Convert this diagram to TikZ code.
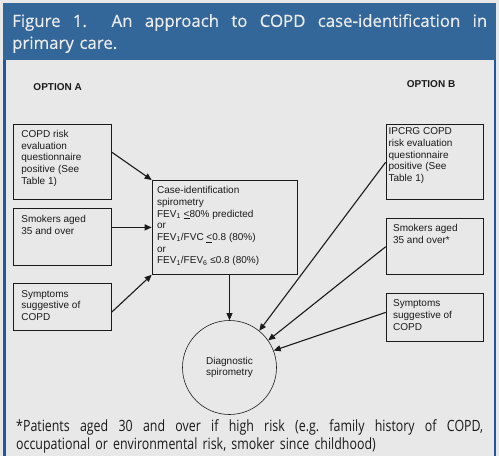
\documentclass[tikz,border=0pt]{standalone}
\usepackage{fontspec}
\setmainfont{Liberation Sans}
\newfontfamily\capfont[FakeBold=0.4]{Open Sans}
\newfontfamily\notefont[FakeStretch=0.8]{Open Sans}
\usetikzlibrary{arrows.meta,positioning,calc}
\usepackage{xcolor}
\definecolor{pageGray}  {HTML}{E8E8E8}
\definecolor{bannerBlue}{HTML}{33679A}
\definecolor{frameBlue} {HTML}{1F56A0}
\definecolor{bannerText}{HTML}{ECECEC}
\definecolor{boxInk}    {HTML}{1A1A1A}
\newcommand{\casebox}[7]{% name, corner, width, height, x inset, y inset, text
  \pgfmathsetmacro{\bw}{#3-2*#5}\pgfmathsetmacro{\bh}{#4-2*#6}
  \node[cbox, inner xsep=#5pt, inner ysep=#6pt] (#1) at (#2)
    {\parbox[c][\bh pt][t]{\bw pt}{\raggedright #7}};
}
% a full line with stretched spaces
\newcommand{\fullline}[2]{\makebox[#1][s]{\frenchspacing\spaceskip=0pt\xspaceskip=0pt #2}}

\begin{document}
\begin{tikzpicture}[x=1pt, y=-1pt,
  every node/.style ={font=\fontsize{10}{11.7}\selectfont},
  cbox/.style       ={draw=boxInk, line width=0.8pt, anchor=north west, text=boxInk},
  dcirc/.style      ={draw=boxInk, line width=0.6pt, circle, minimum size=94pt, inner sep=0pt, align=center, text=boxInk},
  optlbl/.style     ={font=\fontsize{10}{12}\selectfont\bfseries, text=boxInk, inner sep=0pt, anchor=base west},
  arr/.style        ={-{Triangle[length=7pt,width=6pt]}, line width=1.1pt, boxInk},
  thinarr/.style    ={-{Triangle[length=7pt,width=6pt]}, line width=0.7pt, boxInk},
  captxt/.style     ={font=\capfont\fontsize{16.8}{22}\selectfont, text=bannerText, text width=475pt, align=left, inner sep=0pt, anchor=north west},
  notetxt/.style    ={font=\notefont\fontsize{15.5}{18}\selectfont, text=boxInk, text width=467pt, align=left, inner sep=0pt, anchor=north west},
]
\useasboundingbox (0,0) rectangle (499,456);

% page, banner and side rules
\fill[pageGray]   (0,0) rectangle (499,456);
\fill[bannerBlue] (3.3,3) rectangle (496,60);
\fill[frameBlue]  (3.3,60) rectangle (6,456);
\fill[frameBlue]  (494.3,60) rectangle (496,456);

\node[captxt] (cap) at (12,13.8)
  {\fullline{475pt}{Figure 1.\ \ An approach to COPD case-identification in}\\primary care.};

\node[optlbl] (optA) at (33.3,90.7) {OPTION A};
\node[optlbl] (optB) at (406.7,87.5) {OPTION B};

% option A
\casebox{a1}{13.3,124.3}{97.7}{75}{7.7}{5.5}{COPD risk\\evaluation\\questionnaire\\positive (See\\Table 1)}
\casebox{a2}{13.3,208.3}{97.7}{56.7}{7.7}{6.5}{Smokers aged\\35 and over}
\casebox{a3}{13.3,283.3}{97.7}{46.7}{7.7}{6.5}{Symptoms\\suggestive of\\COPD}
\casebox{mid}{151.7,180}{145.6}{94}{5}{6}{Case-identification\\spirometry\\FEV\textsubscript{1} \underline{<}80\% predicted\\or\\FEV\textsubscript{1}/FVC \underline{<}0.8 (80\%)\\or\\FEV\textsubscript{1}/FEV\textsubscript{6} ≤0.8 (80\%)}

% option B
\casebox{b1}{385.7,124.3}{97.6}{75}{2.5}{3}{IPCRG COPD\\risk evaluation\\questionnaire\\positive (See\\Table 1)}
\casebox{b2}{385.7,218.3}{97.6}{56}{7}{6}{Smokers aged\\35 and over*}
\casebox{b3}{385.7,293.3}{97.6}{47.4}{7}{6}{Symptoms\\suggestive of\\COPD}

\node[dcirc] (diag) at (229.5,367.5) {Diagnostic\\spirometry};

\draw[arr] ([yshift=10pt]a1.east) -- (mid.north west);
\draw[arr] (a2.east |- mid.west) -- (mid.west);
\draw[arr] ([yshift=-5pt]a3.east) -- (mid.south west);
\draw[thinarr] (diag.north |- mid.south) -- (diag.north);
\draw[arr] (b1.west) -- (diag.51);
\draw[arr] (b2.west) -- (diag.35);
\draw[arr] ([yshift=5pt]b3.west) -- (diag.21);

\node[notetxt] (note) at (16,419)
  {\fullline{467pt}{*Patients aged 30 and over if high risk (e.g. family history of COPD,}\\occupational or environmental risk, smoker since childhood)};

\end{tikzpicture}
\end{document}
